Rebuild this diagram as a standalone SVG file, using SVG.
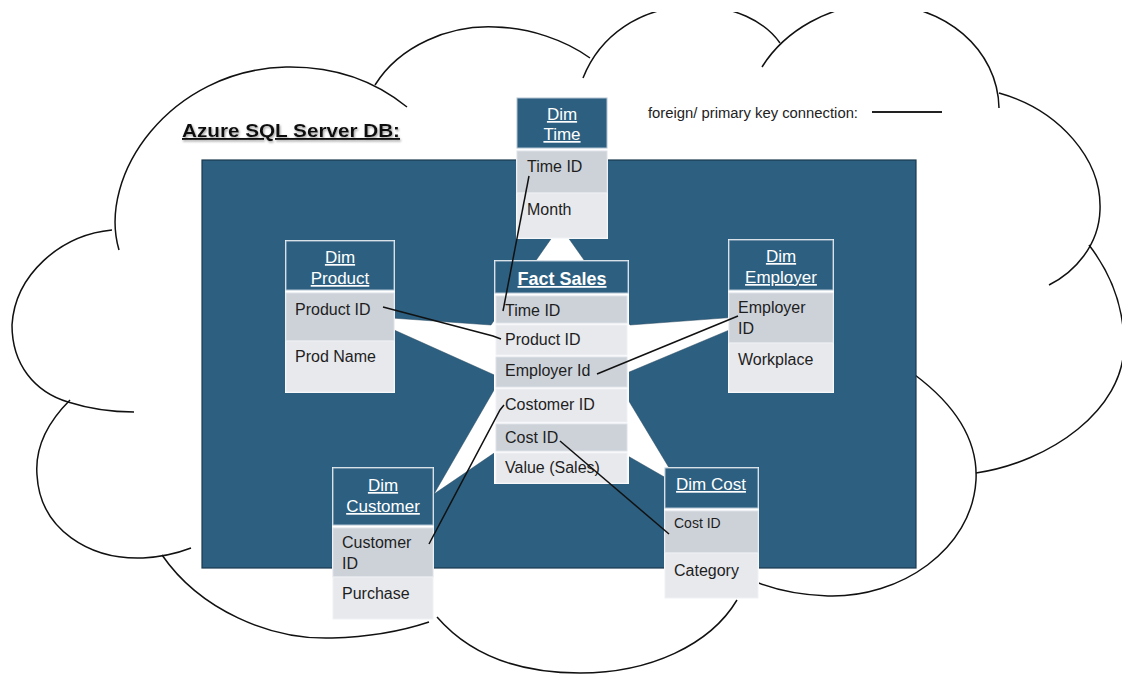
<svg xmlns="http://www.w3.org/2000/svg" width="1122" height="677" viewBox="0 0 1122 677">
<style>
.cloud{fill:none;stroke:#111;stroke-width:1.5}
.hdr{fill:#2c5f80;stroke:#b3c4d2;stroke-width:1}
.rg{fill:#cdd2d9;stroke:#dde2e8;stroke-width:1}
.rl{fill:#e8e9ed;stroke:#f0f1f3;stroke-width:1}
.bg{fill:#ffffff}
.ht{font-family:"Liberation Sans",Arial,sans-serif;font-size:17px;fill:#ffffff;text-decoration:underline;text-anchor:middle}
.rt{font-family:"Liberation Sans",Arial,sans-serif;font-size:16px;fill:#1e1e1e}
.conn{fill:none;stroke:#111;stroke-width:1.5}
</style>
<defs>
<clipPath id="clipTop"><rect x="0" y="12" width="1122" height="665"/></clipPath>
<filter id="shadow" x="-10%" y="-30%" width="120%" height="160%"><feDropShadow dx="1" dy="1.5" stdDeviation="0.8" flood-color="#888" flood-opacity="0.8"/></filter>
</defs>
<rect width="1122" height="677" fill="#ffffff"/>
<g id="cloud" clip-path="url(#clipTop)">
<path class="cloud" d="M119,250 C97,175 170,70 286,67 C340,66 380,85 407,107"/>
<path class="cloud" d="M375,85 C400,45 450,25 495,27 C530,28 565,40 590,58"/>
<path class="cloud" d="M583,78 C600,35 640,8 690,6 C735,5 765,22 780,43"/>
<path class="cloud" d="M762,67 C785,30 830,5 876,4 C945,3 998,50 999,108"/>
<path class="cloud" d="M999,93 C1060,110 1102,160 1100,210 C1099,245 1075,272 1049,285"/>
<path class="cloud" d="M1089,245 C1112,275 1124,310 1124,345 C1124,410 1050,462 976,473"/>
<path class="cloud" d="M915,375 C955,405 978,440 976,480 C972,550 900,598 828,596 C800,595 776,590 756,582"/>
<path class="cloud" d="M437,617 C470,655 520,673 580,673 C650,673 710,645 737,600"/>
<path class="cloud" d="M162,555 C200,610 270,640 332,638 C370,637 405,630 429,622"/>
<path class="cloud" d="M70,400 C45,425 35,450 37,475 C40,530 90,560 143,558 C160,557 178,553 191,548"/>
<path class="cloud" d="M112,230 C60,235 15,275 12,325 C12,365 35,392 68,402 C90,409 112,412 134,412"/>
</g>
<g id="title">
<text x="182" y="137" font-family="Liberation Sans,Arial,sans-serif" font-size="19" font-weight="bold" fill="#111" text-decoration="underline" textLength="218" lengthAdjust="spacingAndGlyphs" filter="url(#shadow)">Azure SQL Server DB:</text>
</g>
<g id="legend">
<text x="648" y="118" font-family="Liberation Sans,Arial,sans-serif" font-size="14" fill="#222" textLength="210" lengthAdjust="spacingAndGlyphs">foreign/ primary key connection:</text>
<line x1="872" y1="112" x2="942" y2="112" stroke="#222" stroke-width="1.8"/>
</g>
<g id="db-area">
<rect x="202" y="160" width="714" height="408" fill="#2c5f80" stroke="#1b3a4f" stroke-width="1.2"/>
<polygon points="560,226 630,325 765,315 615,378 680,486 553,413 434,494 501,378 363,316 491,325" fill="#ffffff" stroke="#2a4a60" stroke-width="0.5"/>
</g>
<g id="dim-time">
<rect class="bg" x="516" y="97" width="92" height="142"/>
<rect class="hdr" x="517" y="98" width="90" height="50"/>
<rect class="rg" x="517" y="151" width="90" height="42"/>
<rect class="rl" x="517" y="193" width="90" height="45"/>
<text class="ht" x="562" y="120">Dim</text>
<text class="ht" x="562" y="140">Time</text>
<text class="rt" x="527" y="172">Time ID</text>
<text class="rt" x="527" y="215">Month</text>
</g>
<g id="fact-sales">
<rect class="bg" x="494" y="260" width="135" height="224"/>
<rect class="hdr" x="495" y="261" width="133" height="32"/>
<rect class="rg" x="496" y="296" width="131" height="27"/>
<rect class="rl" x="496" y="325" width="131" height="30"/>
<rect class="rg" x="496" y="357" width="131" height="30"/>
<rect class="rl" x="496" y="389" width="131" height="33"/>
<rect class="rg" x="496" y="424" width="131" height="27"/>
<rect class="rl" x="496" y="453" width="131" height="30"/>
<text class="ht" x="562" y="285" style="font-size:18px;font-weight:bold">Fact Sales</text>
<text class="rt" x="505" y="316">Time ID</text>
<text class="rt" x="505" y="345">Product ID</text>
<text class="rt" x="505" y="376">Employer Id</text>
<text class="rt" x="505" y="410">Costomer ID</text>
<text class="rt" x="505" y="443">Cost ID</text>
<text class="rt" x="505" y="473">Value (Sales)</text>
</g>
<g id="dim-product">
<rect class="bg" x="285" y="240" width="110" height="153"/>
<rect class="hdr" x="286" y="241" width="108" height="49"/>
<rect class="rg" x="286" y="293" width="108" height="48"/>
<rect class="rl" x="286" y="341" width="108" height="51"/>
<text class="ht" x="340" y="263">Dim</text>
<text class="ht" x="340" y="284">Product</text>
<text class="rt" x="295" y="315">Product ID</text>
<text class="rt" x="295" y="362">Prod Name</text>
</g>
<g id="dim-employer">
<rect class="bg" x="728" y="239" width="106" height="154"/>
<rect class="hdr" x="729" y="240" width="104" height="50"/>
<rect class="rg" x="729" y="293" width="104" height="50"/>
<rect class="rl" x="729" y="343" width="104" height="49"/>
<text class="ht" x="781" y="262">Dim</text>
<text class="ht" x="781" y="283">Employer</text>
<text class="rt" x="738" y="313">Employer</text>
<text class="rt" x="738" y="334">ID</text>
<text class="rt" x="738" y="365">Workplace</text>
</g>
<g id="dim-customer">
<rect class="bg" x="332" y="467" width="102" height="153"/>
<rect class="hdr" x="333" y="468" width="100" height="57"/>
<rect class="rg" x="333" y="528" width="100" height="49"/>
<rect class="rl" x="333" y="577" width="100" height="42"/>
<text class="ht" x="383" y="491">Dim</text>
<text class="ht" x="383" y="512">Customer</text>
<text class="rt" x="342" y="548">Customer</text>
<text class="rt" x="342" y="569">ID</text>
<text class="rt" x="342" y="599">Purchase</text>
</g>
<g id="dim-cost">
<rect class="bg" x="664" y="467" width="95" height="132"/>
<rect class="hdr" x="665" y="468" width="93" height="40"/>
<rect class="rg" x="665" y="511" width="93" height="42"/>
<rect class="rl" x="665" y="553" width="93" height="45"/>
<text class="ht" x="711" y="490">Dim Cost</text>
<text class="rt" x="674" y="528" style="font-size:14px">Cost ID</text>
<text class="rt" x="674" y="576">Category</text>
</g>
<g id="connectors">
<path class="conn" d="M529,176 L503,311"/>
<path class="conn" d="M383,307 L493,336 L501,339"/>
<path class="conn" d="M738,316 L597,374"/>
<path class="conn" d="M429,544 L500,410 L504,405"/>
<path class="conn" d="M560,441 L669,534"/>
</g>
</svg>
